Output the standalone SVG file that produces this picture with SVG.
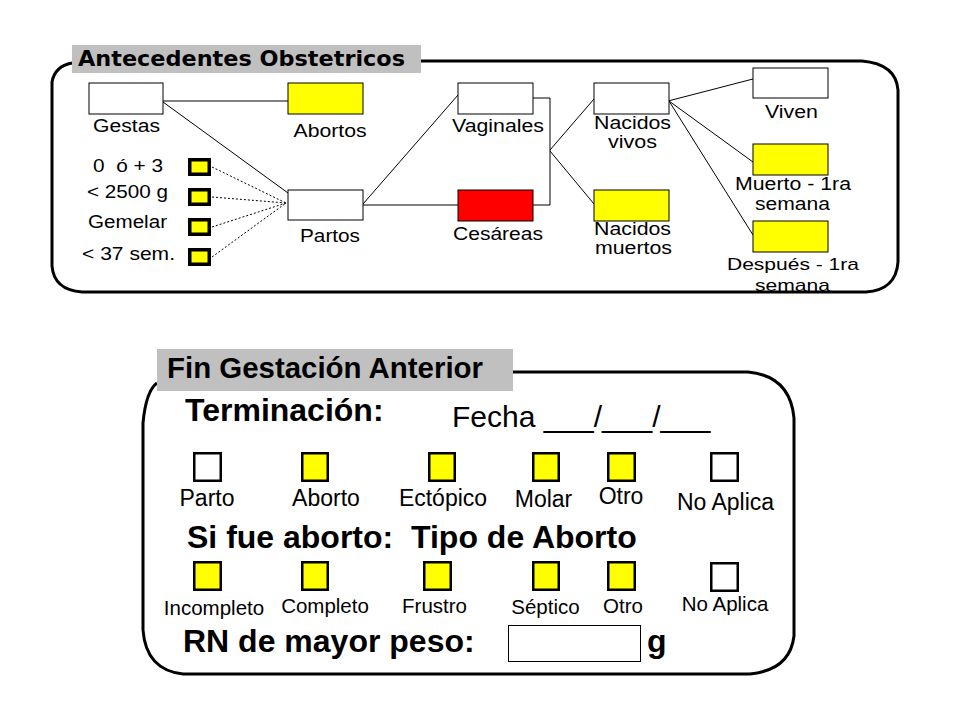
<svg xmlns="http://www.w3.org/2000/svg" width="960" height="720" viewBox="0 0 960 720">
<style>
  text { font-family: "Liberation Sans", Arial, sans-serif; fill: #000; }
  .lbl { font-size: 17.5px; text-anchor: middle; }
  .r1 { font-size: 23px; text-anchor: middle; }
  .r2 { font-size: 20.5px; text-anchor: middle; }
  .big { font-size: 32px; font-weight: bold; }
  .panel { fill: none; stroke: #000; stroke-width: 3; }
  .title { fill: #c0c0c0; }
  .node { stroke: #000; stroke-width: 1; }
  .w { fill: #fff; }
  .y { fill: #ffff00; }
  .red { fill: #ff0000; }
  .sq { fill: #ffff00; stroke: #000; stroke-width: 3.5; }
  .cb { stroke: #000; stroke-width: 2.5; }
  .ln { fill: none; stroke: #000; stroke-width: 1; }
  .dot { fill: none; stroke: #000; stroke-width: 1; stroke-dasharray: 2 2; }
</style>
<rect width="960" height="720" fill="#fff"/>

<!-- Top panel -->
<g id="panel-antecedentes">
  <path class="panel" d="M 421 61 L 862 61 Q 896 64 898 90 L 898 262 Q 896 290 866 292 L 82 292 Q 54 290 52 266 L 52 82 Q 55 66 72 63"/>
  <rect class="title" x="72" y="45" width="349" height="28"/>
  <text x="78" y="66" style="font-family:'DejaVu Sans',Verdana,sans-serif;font-weight:bold;font-size:22px" textLength="327" lengthAdjust="spacingAndGlyphs">Antecedentes Obstetricos</text>
</g>

<g id="connectors">
  <line class="ln" x1="163" y1="101" x2="288" y2="101"/>
  <line class="ln" x1="163" y1="102" x2="288" y2="193"/>
  <line class="dot" x1="212" y1="167" x2="286" y2="203"/>
  <line class="dot" x1="212" y1="197" x2="286" y2="203"/>
  <line class="dot" x1="212" y1="227" x2="286" y2="203"/>
  <line class="dot" x1="212" y1="257" x2="286" y2="203"/>
  <line class="ln" x1="363" y1="204" x2="458" y2="95"/>
  <line class="ln" x1="363" y1="205" x2="458" y2="205"/>
  <polyline class="ln" points="533,98 550,98 550,205 533,205"/>
  <line class="ln" x1="550" y1="150" x2="594" y2="99"/>
  <line class="ln" x1="550" y1="151" x2="594" y2="204"/>
  <line class="ln" x1="668" y1="101" x2="753" y2="79"/>
  <line class="ln" x1="669" y1="101" x2="753" y2="162"/>
  <line class="ln" x1="669" y1="101" x2="753" y2="235"/>
</g>

<g id="node-gestas">
  <rect class="node w" x="89" y="83" width="74" height="31"/>
  <text class="lbl" x="126.5" y="132" textLength="67" lengthAdjust="spacingAndGlyphs">Gestas</text>
</g>
<g id="node-abortos">
  <rect class="node y" x="288" y="83" width="75" height="31"/>
  <text class="lbl" x="330" y="137" textLength="73" lengthAdjust="spacingAndGlyphs">Abortos</text>
</g>
<g id="node-partos">
  <rect class="node w" x="288" y="190" width="75" height="30"/>
  <text class="lbl" x="330" y="242" textLength="60" lengthAdjust="spacingAndGlyphs">Partos</text>
</g>
<g id="node-0o3">
  <rect class="sq" x="189.75" y="159.75" width="19.5" height="14.5"/>
  <text class="lbl" x="128" y="172" textLength="70" lengthAdjust="spacingAndGlyphs" xml:space="preserve">0  ó + 3</text>
</g>
<g id="node-2500">
  <rect class="sq" x="189.75" y="189.75" width="19.5" height="14.5"/>
  <text class="lbl" x="127.5" y="198" textLength="81" lengthAdjust="spacingAndGlyphs">&lt; 2500 g</text>
</g>
<g id="node-gemelar">
  <rect class="sq" x="189.75" y="219.75" width="19.5" height="14.5"/>
  <text class="lbl" x="127.5" y="228" textLength="79" lengthAdjust="spacingAndGlyphs">Gemelar</text>
</g>
<g id="node-37sem">
  <rect class="sq" x="189.75" y="249.75" width="19.5" height="14.5"/>
  <text class="lbl" x="128.5" y="260" textLength="93" lengthAdjust="spacingAndGlyphs">&lt; 37 sem.</text>
</g>
<g id="node-vaginales">
  <rect class="node w" x="458" y="83" width="75" height="31"/>
  <text class="lbl" x="498" y="132" textLength="92" lengthAdjust="spacingAndGlyphs">Vaginales</text>
</g>
<g id="node-cesareas">
  <rect class="node red" x="458" y="190" width="75" height="31"/>
  <text class="lbl" x="498" y="240" textLength="90" lengthAdjust="spacingAndGlyphs">Cesáreas</text>
</g>
<g id="node-nacidos-vivos">
  <rect class="node w" x="594" y="83" width="75" height="31"/>
  <text class="lbl" x="632.5" y="129" textLength="77" lengthAdjust="spacingAndGlyphs">Nacidos</text>
  <text class="lbl" x="632.5" y="148" textLength="49" lengthAdjust="spacingAndGlyphs">vivos</text>
</g>
<g id="node-nacidos-muertos">
  <rect class="node y" x="594" y="190" width="75" height="31"/>
  <text class="lbl" x="632.5" y="235" textLength="77" lengthAdjust="spacingAndGlyphs">Nacidos</text>
  <text class="lbl" x="633.5" y="254" textLength="77" lengthAdjust="spacingAndGlyphs">muertos</text>
</g>
<g id="node-viven">
  <rect class="node w" x="753" y="68" width="75" height="30"/>
  <text class="lbl" x="791.5" y="118" textLength="53" lengthAdjust="spacingAndGlyphs">Viven</text>
</g>
<g id="node-muerto">
  <rect class="node y" x="753" y="144" width="75" height="31"/>
  <text class="lbl" x="793" y="190" textLength="116" lengthAdjust="spacingAndGlyphs">Muerto - 1ra</text>
  <text class="lbl" x="792.5" y="210" textLength="75" lengthAdjust="spacingAndGlyphs">semana</text>
</g>
<g id="node-despues">
  <rect class="node y" x="753" y="221" width="75" height="31"/>
  <text class="lbl" x="793" y="270" style="font-size:17px" textLength="132" lengthAdjust="spacingAndGlyphs">Después - 1ra</text>
  <text class="lbl" x="792.5" y="291" style="font-size:17px" textLength="75" lengthAdjust="spacingAndGlyphs">semana</text>
</g>

<!-- Bottom panel -->
<g id="panel-fin-gestacion">
  <path class="panel" d="M 513 372 L 748 372 Q 790 376 794 418 L 794 636 Q 790 670 750 674 L 183 674 Q 146 670 143 630 L 143 423 Q 146 391 157 383"/>
  <rect class="title" x="157" y="349" width="356" height="42"/>
  <text x="167" y="378" style="font-size:29px;font-weight:bold" textLength="316" lengthAdjust="spacingAndGlyphs">Fin Gestación Anterior</text>
  <text class="big" x="185" y="421">Terminación:</text>
  <text x="452" y="427" style="font-size:30px">Fecha ___/___/___</text>
  <text class="big" x="187" y="548" xml:space="preserve">Si fue aborto:  Tipo de Aborto</text>
  <text class="big" x="183" y="652">RN de mayor peso:</text>
  <rect class="node w" x="508.5" y="625.5" width="132" height="36"/>
  <text class="big" x="647" y="652">g</text>
</g>

<g id="terminacion-options">
  <g id="opt-parto"><rect class="cb w" x="194.25" y="453.25" width="26.5" height="27.5"/><text class="r1" x="207" y="506">Parto</text></g>
  <g id="opt-aborto"><rect class="cb y" x="302.25" y="453.25" width="25.5" height="27.5"/><text class="r1" x="326" y="506">Aborto</text></g>
  <g id="opt-ectopico"><rect class="cb y" x="429.25" y="453.25" width="25.5" height="27.5"/><text class="r1" x="443" y="506">Ectópico</text></g>
  <g id="opt-molar"><rect class="cb y" x="533.25" y="453.25" width="25.5" height="27.5"/><text class="r1" x="543.5" y="507">Molar</text></g>
  <g id="opt-otro"><rect class="cb y" x="608.25" y="453.25" width="26.5" height="27.5"/><text class="r1" x="621" y="504">Otro</text></g>
  <g id="opt-noaplica"><rect class="cb w" x="711.25" y="453.25" width="26.5" height="27.5"/><text class="r1" x="725.5" y="510">No Aplica</text></g>
</g>

<g id="tipo-aborto-options">
  <g id="opt-incompleto"><rect class="cb y" x="194.25" y="562.25" width="26.5" height="27.5"/><text class="r2" x="214" y="615">Incompleto</text></g>
  <g id="opt-completo"><rect class="cb y" x="302.25" y="562.25" width="25.5" height="27.5"/><text class="r2" x="325" y="613">Completo</text></g>
  <g id="opt-frustro"><rect class="cb y" x="424.25" y="562.25" width="26.5" height="27.5"/><text class="r2" x="434.5" y="613">Frustro</text></g>
  <g id="opt-septico"><rect class="cb y" x="533.25" y="562.25" width="25.5" height="27.5"/><text class="r2" x="545.5" y="614">Séptico</text></g>
  <g id="opt-otro2"><rect class="cb y" x="608.25" y="562.25" width="26.5" height="27.5"/><text class="r2" x="623" y="613">Otro</text></g>
  <g id="opt-noaplica2"><rect class="cb w" x="711.25" y="563.25" width="26.5" height="27.5"/><text class="r2" x="725" y="611">No Aplica</text></g>
</g>
</svg>
